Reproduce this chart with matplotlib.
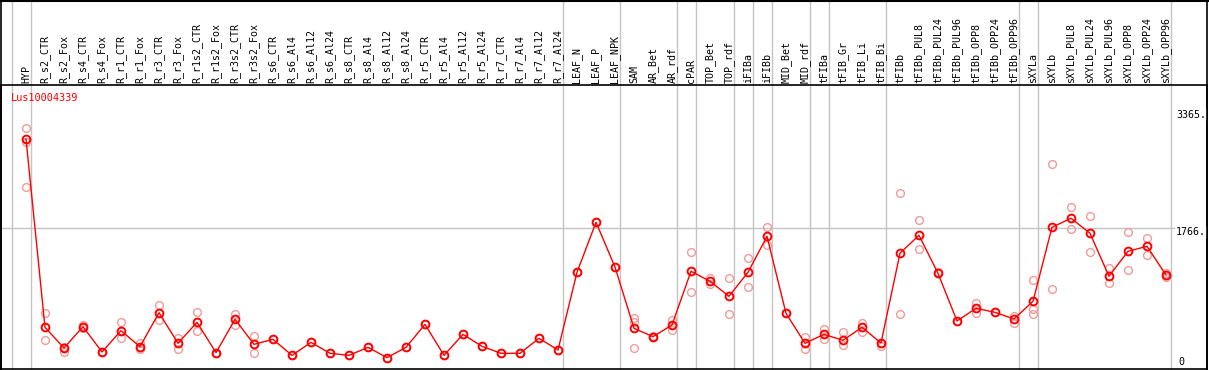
import matplotlib
matplotlib.use("Agg")
from matplotlib import pyplot as plt
from matplotlib.lines import Line2D
import numpy as np

# samples (tissues / treatments)
samples = ["HYP", "R_s2_CTR", "R_s2_Fox", "R_s4_CTR", "R_s4_Fox", "R_r1_CTR", "R_r1_Fox",
           "R_r3_CTR", "R_r3_Fox", "R_r1s2_CTR", "R_r1s2_Fox", "R_r3s2_CTR", "R_r3s2_Fox",
           "R_s6_CTR", "R_s6_Al4", "R_s6_Al12", "R_s6_Al24", "R_s8_CTR", "R_s8_Al4",
           "R_s8_Al12", "R_s8_Al24", "R_r5_CTR", "R_r5_Al4", "R_r5_Al12", "R_r5_Al24",
           "R_r7_CTR", "R_r7_Al4", "R_r7_Al12", "R_r7_Al24", "LEAF_N", "LEAF_P", "LEAF_NPK",
           "SAM", "AR_Bet", "AR_rdf", "cPAR", "TOP_Bet", "TOP_rdf", "iFIBa", "iFIBb",
           "MID_Bet", "MID_rdf", "tFIBa", "tFIB_Gr", "tFIB_Li", "tFIB_Bi", "tFIBb",
           "tFIBb_PUL8", "tFIBb_PUL24", "tFIBb_PUL96", "tFIBb_OPP8", "tFIBb_OPP24",
           "tFIBb_OPP96", "sXYLa", "sXYLb", "sXYLb_PUL8", "sXYLb_PUL24", "sXYLb_PUL96",
           "sXYLb_OPP8", "sXYLb_OPP24", "sXYLb_OPP96"]

# mean expression
means = [2983, 418, 136, 427, 82, 372, 154, 617, 200, 486, 73, 527, 186,
         254, 36, 213, 64, 36, 145, 5, 145, 458, 36, 322, 159, 64, 64, 268, 109,
         1167, 1848, 1239, 404, 291, 449, 1181, 1045, 840, 1167, 1657, 609, 200,
         322, 241, 418, 204, 1426, 1671, 1153, 504, 677, 622, 531, 772, 1780,
         1903, 1698, 1113, 1453, 1521, 1130]

# replicate values
reps = [[3128, 2946, 2325], [609, 245], [154, 86], [449, 404], [82, 82], [486, 268],
        [200, 118], [717, 518], [268, 118], [622, 363], [73, 73], [599, 454], [300, 64],
        [254], [36], [213], [64], [36], [145], [5], [145], [458], [36], [322], [159],
        [64], [64], [268], [109], [1167], [1848], [1239], [540, 495, 141], [291, 300],
        [518, 381], [1439, 903], [1085, 1008], [1085, 595], [1358, 963], [1780, 1544],
        [609], [282, 127], [391, 263], [350, 177], [472, 350], [159, 204], [2243, 595],
        [1875, 1480], [1176, 1153], [504], [753, 617], [622], [576, 481],
        [1058, 663, 595], [2638, 936], [2052, 1753], [1938, 1439], [1222, 1017],
        [1712, 1194], [1630, 1399], [1162, 1099]]

# group separators (after these sample indices)
seps = [-1, 0, 28, 31, 34, 35, 37, 38, 39, 41, 42, 45, 52, 53, 60]
yticks = [3365, 1766, 0]

W, H = 1209, 370
fig = plt.figure(figsize=(W / 100, H / 100), dpi=100)
fig.patch.set_facecolor("white")

# plot area in pixels
left, right, top, bottom = 1, 1207, 85, 369
ax = fig.add_axes([left / W, (H - bottom) / H, (right - left) / W, (bottom - top) / H])

x = np.arange(len(samples))
px0, step = 26, 19
ax.set_xlim((left - px0) / step, (right - px0) / step)
upp = 1766 / 129.7
ax.set_ylim(-(bottom - 358) * upp, (358 - top) * upp)
ax.set_xticks([])
ax.set_yticks([])
for s in ax.spines.values():
    s.set_color("black")
    s.set_linewidth(1.2)

grey = "#c4c4c4"
ax.axhline(1766, color=grey, lw=1, zorder=1)
ext = (bottom - 0) / (bottom - top)
for s in seps:
    ax.axvline(s + 4.5 / step, ymin=0, ymax=ext, color=grey, lw=1, clip_on=False, zorder=1)

rx = np.concatenate([[i] * len(r) for i, r in enumerate(reps)])
ry = np.concatenate(reps)
ax.plot(rx, ry, "o", ms=5.6, mfc="none", mec="#f29a9a", mew=1.0, zorder=2)
ax.plot(x, means, "-", color="red", lw=1, zorder=3)
ax.plot(x, means, "o", ms=5.6, mfc="none", mec="red", mew=1.4, zorder=4)

mono = "DejaVu Sans Mono"
trans = ax.get_xaxis_transform()
for i, lab in enumerate(samples):
    ax.text(i, 1 + 2 / (bottom - top), lab, rotation=90, ha="center", va="bottom",
            fontsize=7.2, family=mono, transform=trans, clip_on=False)

lab_x = (1176 - px0) / step
for v in yticks:
    ax.annotate(f"{v}." if v else "0", xy=(lab_x, v),
                xytext=(1.5 if v == 0 else 0, -3), textcoords="offset points",
                ha="left", va="center", fontsize=7.2, family=mono,
                bbox=dict(boxstyle="square,pad=0.1", fc="white", ec="none"), zorder=5)

ax.text(0.008, 0.955, "Lus10004339", transform=ax.transAxes, color="red",
        fontsize=7.4, family=mono, va="center", ha="left", zorder=5)

# outer frame
fig.add_artist(Line2D([left / W, left / W], [0, 1], color="black", lw=1.2))
fig.add_artist(Line2D([right / W, right / W], [0, 1], color="black", lw=1.2))
fig.add_artist(Line2D([0, 1], [1 - 0.5 / H, 1 - 0.5 / H], color="black", lw=1.5))

fig.savefig("out.png", dpi=100)
